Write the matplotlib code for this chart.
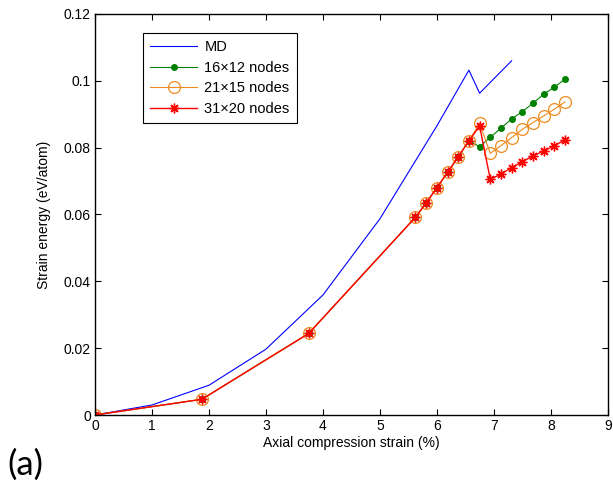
import numpy as np
import matplotlib
matplotlib.use("Agg")
import matplotlib.pyplot as plt

plt.rcParams['font.family'] = ['Liberation Sans', 'DejaVu Sans']

# MD reference curve
md_strain = [0, 1, 2, 3, 4, 5, 6, 6.5625, 6.75, 7.3125]
md_energy = [0, 0.0030, 0.0089, 0.0197, 0.0359, 0.0587, 0.0865, 0.1032, 0.0963, 0.1060]

# shared load steps of the coarse-grained runs
strain = [0, 1.875, 3.75, 5.625, 5.8125, 6.0, 6.1875, 6.375, 6.5625, 6.75,
          6.9375, 7.125, 7.3125, 7.5, 7.6875, 7.875, 8.0625, 8.25]

e_16x12 = [0, 0.0047, 0.0244, 0.0592, 0.0635, 0.0680, 0.0726, 0.0773, 0.0820, 0.0803,
           0.0831, 0.0858, 0.0886, 0.0908, 0.0933, 0.0960, 0.0981, 0.1005]
e_21x15 = [0, 0.0047, 0.0244, 0.0592, 0.0635, 0.0680, 0.0726, 0.0773, 0.0820, 0.0873,
           0.0783, 0.0806, 0.0830, 0.0855, 0.0875, 0.0895, 0.0915, 0.0937]
e_31x20 = [0, 0.0047, 0.0244, 0.0592, 0.0635, 0.0680, 0.0726, 0.0773, 0.0820, 0.0865,
           0.0705, 0.0721, 0.0740, 0.0758, 0.0775, 0.0790, 0.0806, 0.0823]

labels = ['MD', '16\u00d712 nodes', '21\u00d715 nodes', '31\u00d720 nodes']

fig = plt.figure(figsize=(6.13, 4.96), dpi=100)
ax = fig.add_axes([0.155, 0.1633, 0.8365, 0.8085])

ax.plot(md_strain, md_energy, color='#0000ff', lw=0.8, label=labels[0])
ax.plot(strain, e_16x12, color='#008000', lw=0.8, marker='o', ms=4,
        mfc='#008000', mec='#008000', label=labels[1])
ax.plot(strain, e_21x15, color='#ee8a1f', lw=0.8, marker='o', ms=8.5,
        mfc='none', mec='#ee8a1f', mew=0.9, label=labels[2])
# MATLAB-style asterisk: plus overlaid with a cross
ax.plot(strain, e_31x20, color='#ff0000', lw=1.0, marker=(8, 2, 0), ms=7,
        mec='#ff0000', mew=1.0, label=labels[3])

ax.set_xlim(0, 9)
ax.set_ylim(0, 0.12)
ax.set_xticks(range(10))
ax.set_yticks([0, 0.02, 0.04, 0.06, 0.08, 0.1, 0.12])
ax.set_yticklabels(['0', '0.02', '0.04', '0.06', '0.08', '0.1', '0.12'])
ax.tick_params(direction='in', top=True, right=True, length=4, width=0.8,
               labelsize=10, pad=3)
for s in ax.spines.values():
    s.set_linewidth(1.0)

ax.set_xlabel('Axial compression strain (%)', fontsize=10, labelpad=2)
ax.set_ylabel('Strain energy (eV/atom)', fontsize=10, labelpad=9)

leg = ax.legend(loc='upper left', bbox_to_anchor=(143 / 613, 1 - 33 / 496),
                bbox_transform=fig.transFigure, fontsize=10.5, frameon=True,
                fancybox=False, edgecolor='black', framealpha=1,
                handlelength=3.2, handletextpad=0.5, borderpad=0.5,
                labelspacing=0.45, borderaxespad=0)
leg.get_frame().set_linewidth(0.8)

fig.text(7 / 613, 21 / 496, '(a)', fontsize=25, family=['Lato', 'DejaVu Sans'],
         ha='left', va='baseline')

fig.savefig('out.png', dpi=100)
